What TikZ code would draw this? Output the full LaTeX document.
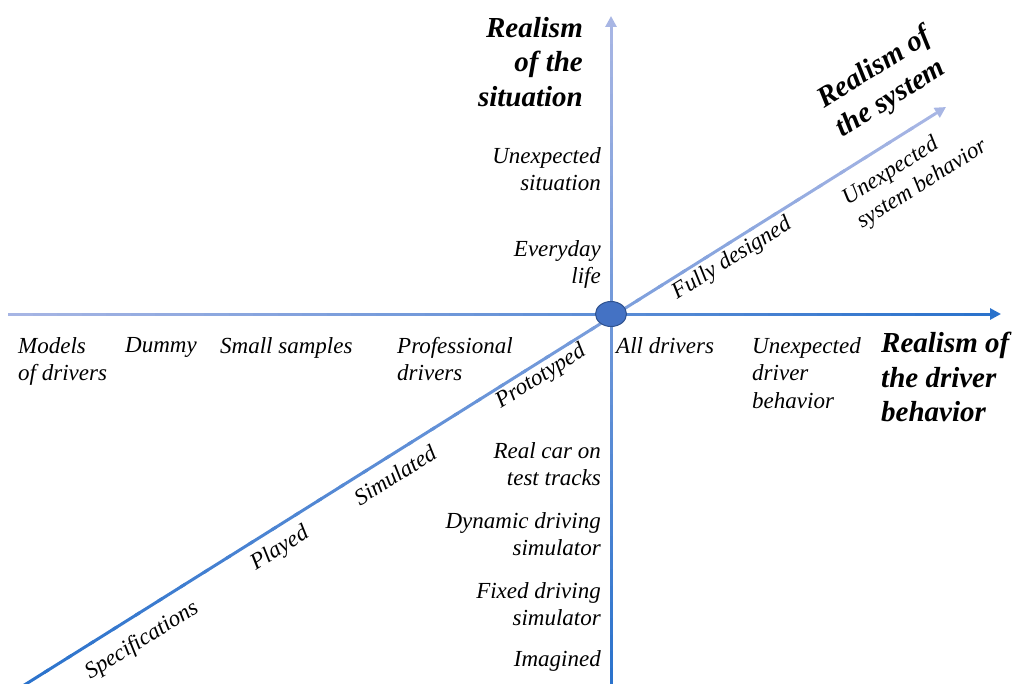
\documentclass[tikz,border=0pt]{standalone}
\usepackage{fontspec}
\setmainfont{Liberation Serif}
\usepackage{xcolor}
\usetikzlibrary{arrows.meta, calc, shapes.geometric}
\definecolor{axislight}{RGB}{168,182,228}
\definecolor{axisdark}{RGB}{42,114,204}
\definecolor{dotfill}{RGB}{68,114,196}
\definecolor{dotline}{RGB}{47,82,143}

\begin{document}
\begin{tikzpicture}[
    x=1pt, y=-1pt,
    axisline/.style={line width=3pt},
    tip/.style={-{Triangle[length=11pt, width=11pt]}},
    lbl/.style={font=\fontsize{23}{27.5}\selectfont\itshape, inner sep=0pt},
    ttl/.style={font=\fontsize{29}{34.5}\selectfont\bfseries\itshape, inner sep=0pt},
    diag/.style={lbl, rotate=32},
]
\useasboundingbox (0,0) rectangle (1016,684);

% Axis end points
\coordinate (leftEnd) at (8,314);
\coordinate (rightEnd) at (1001,314);
\coordinate (topEnd) at (611,16);
\coordinate (bottomEnd) at (611,684);
\coordinate (lowEnd) at (26,684);
\coordinate (highEnd) at (946,107);
\coordinate (rightStop) at ($(rightEnd)!12pt!(leftEnd)$);
\coordinate (topStop) at ($(topEnd)!12pt!(bottomEnd)$);
\coordinate (highStop) at ($(highEnd)!12pt!(lowEnd)$);

% Axes, light to dark in small steps
\foreach \a/\b in {leftEnd/rightStop, topStop/bottomEnd, highStop/lowEnd}{
  \foreach \i in {0,...,39}{
    \pgfmathsetmacro{\s}{\i/40}
    \pgfmathsetmacro{\t}{(\i+1.2)/40}
    \pgfmathsetmacro{\p}{(\i+0.5)*2.5}
    \draw[axisline, draw=axisdark!\p!axislight] ($(\a)!\s!(\b)$) -- ($(\a)!\t!(\b)$);
  }
}
\draw[axisline, tip, axisdark] (rightStop) -- (rightEnd);
\draw[axisline, tip, axislight] (topStop) -- (topEnd);
\draw[axisline, tip, axislight] (highStop) -- (highEnd);

\node[ellipse, draw=dotline, fill=dotfill, line width=1pt, minimum width=31pt,
      minimum height=25pt, inner sep=0pt] (origin) at (611,314) {};

% Titles
\node[ttl, anchor=north east, align=right] (sitTitle) at (583,17) {Realism\\of the\\situation};
\node[ttl, anchor=north west, align=left] (drvTitle) at (881,332) {Realism of\\the driver\\behavior};
\node[ttl, rotate=32, align=left] (sysTitle) at (884,83) {Realism of\\the system};

% Situation
\node[lbl, anchor=north east, align=right] (unexpSit) at (601,147) {Unexpected\\situation};
\node[lbl, anchor=north east, align=right] (everyday) at (601,240) {Everyday\\life};
\node[lbl, anchor=north east, align=right] (realCar) at (601,442) {Real car on\\test tracks};
\node[lbl, anchor=north east, align=right] (dynSim) at (601,512) {Dynamic driving\\simulator};
\node[lbl, anchor=north east, align=right] (fixSim) at (601,582) {Fixed driving\\simulator};
\node[lbl, anchor=north east, align=right] (imagined) at (601,650) {Imagined};

% Drivers
\node[lbl, anchor=north west, align=left] (models) at (18,337) {Models\\of drivers};
\node[lbl, anchor=north west] (dummy) at (125,337) {Dummy};
\node[lbl, anchor=north west] (samples) at (220,337) {Small samples};
\node[lbl, anchor=north west, align=left] (pros) at (397,337) {Professional\\drivers};
\node[lbl, anchor=north west] (allDrv) at (616,337) {All drivers};
\node[lbl, anchor=north west, align=left] (unexpDrv) at (752,337) {Unexpected\\driver\\behavior};

% System
\node[diag, align=left] (unexpSys) at (915,173) {Unexpected\\system behavior};
\node[diag] (fully) at (732,259) {Fully designed};
\node[diag] (proto) at (541,377) {Prototyped};
\node[diag] (simul) at (395,475) {Simulated};
\node[diag] (played) at (280,549) {Played};
\node[diag] (specs) at (142,641) {Specifications};

\end{tikzpicture}
\end{document}
